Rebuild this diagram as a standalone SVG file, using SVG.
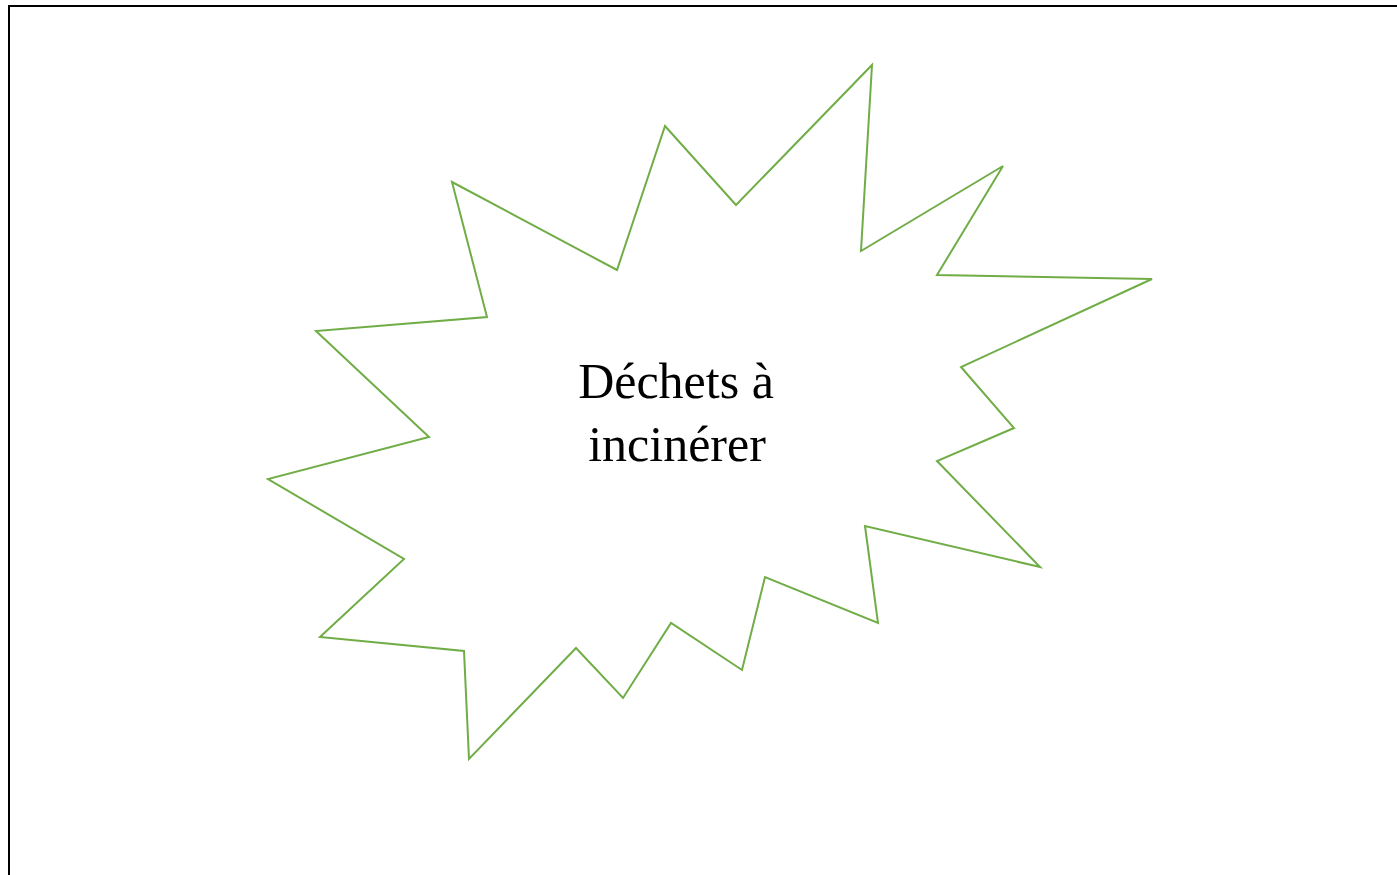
<svg xmlns="http://www.w3.org/2000/svg" width="1397" height="875" viewBox="0 0 1397 875">
  <style>
    .frame { fill: none; stroke: #000000; stroke-width: 2; }
    .burst { fill: #ffffff; stroke: #70AD47; stroke-width: 2; stroke-linejoin: miter; }
    .label { font-family: "Liberation Serif", "Times New Roman", serif; font-size: 50px; fill: #000000; text-anchor: middle; }
  </style>
  <rect width="1397" height="875" fill="#ffffff"/>
  <path class="frame" d="M9,875 V6 H1397"/>
  <g id="node-dechets">
    <polygon class="burst" points="452,182 617,270 665,126 736,205 872,65 861,251 1003,166 937,275 1152,279 961,367 1014,428 937,461 1040,567 865,526 878,623 765,577 742,670 671,623 623,698 576,648 469,759 464,651 320,637 404,559 268,479 429,437 316,331 487,317"/>
    <text class="label" x="676" y="398">Déchets à</text>
    <text class="label" x="677" y="461">incinérer</text>
  </g>
  <g id="connectors"></g>
</svg>
